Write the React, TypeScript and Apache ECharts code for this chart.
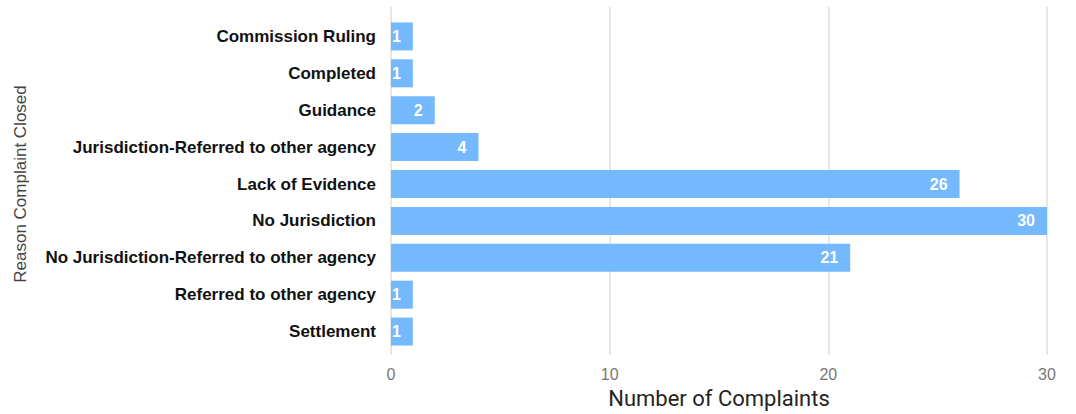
import React, { useEffect, useRef } from "react";
import * as echarts from "echarts";

const categories = [
  "Commission Ruling",
  "Completed",
  "Guidance",
  "Jurisdiction-Referred to other agency",
  "Lack of Evidence",
  "No Jurisdiction",
  "No Jurisdiction-Referred to other agency",
  "Referred to other agency",
  "Settlement",
];
const complaints = [1, 1, 2, 4, 26, 30, 21, 1, 1];
const xTicks = [0, 10, 20, 30];

export default function App() {
  const ref = useRef<HTMLDivElement>(null);
  useEffect(() => {
    document.body.style.margin = "0";
    const chart = echarts.init(ref.current!, null, { renderer: "svg" });
    chart.setOption({
      animation: false,
      backgroundColor: "#ffffff",
      grid: [
        { left: 391, right: 29, top: 7, bottom: 53 },
        { left: 391, right: 29, top: 18, bottom: 64 },
      ],
      xAxis: [
        {
          gridIndex: 0,
          type: "value",
          min: xTicks[0],
          max: xTicks[xTicks.length - 1],
          interval: 10,
          name: "Number of Complaints",
          nameLocation: "middle",
          nameGap: 29,
          nameTextStyle: { fontFamily: "Roboto", fontSize: 22, color: "#252423" },
          axisLine: { show: false },
          axisTick: { show: false },
          axisLabel: { margin: 11, fontFamily: "Liberation Sans", fontSize: 16, color: "#777777" },
          splitLine: { show: true, lineStyle: { color: "#e4e1dd", width: 1.6 } },
        },
        {
          gridIndex: 1,
          type: "value",
          min: 0,
          max: 30,
          show: false,
          splitLine: { show: false },
        },
      ],
      yAxis: [
        {
          gridIndex: 0,
          type: "value",
          show: false,
          min: 0,
          max: 1,
          splitLine: { show: false },
        },
        {
          gridIndex: 1,
          type: "category",
          data: categories,
          inverse: true,
          name: "Reason Complaint Closed",
          nameLocation: "middle",
          nameGap: 362,
          nameTextStyle: { fontFamily: "Liberation Sans", fontSize: 17, color: "#444444" },
          axisLine: { show: false },
          axisTick: { show: false },
          axisLabel: {
            margin: 15,
            fontFamily: "Liberation Sans",
            fontWeight: "bold",
            fontSize: 17,
            color: "#111111",
          },
          splitLine: { show: false },
        },
      ],
      series: [
        {
          type: "bar",
          xAxisIndex: 1,
          yAxisIndex: 1,
          data: complaints,
          barWidth: 28,
          itemStyle: { color: "#74b9fe" },
          label: {
            show: true,
            position: "insideRight",
            distance: 12,
            fontFamily: "Liberation Sans",
            fontWeight: "bold",
            fontSize: 16,
            color: "#ffffff",
          },
        },
      ],
    });
    return () => chart.dispose();
  }, []);
  return <div ref={ref} style={{ width: 1076, height: 414 }} />;
}
